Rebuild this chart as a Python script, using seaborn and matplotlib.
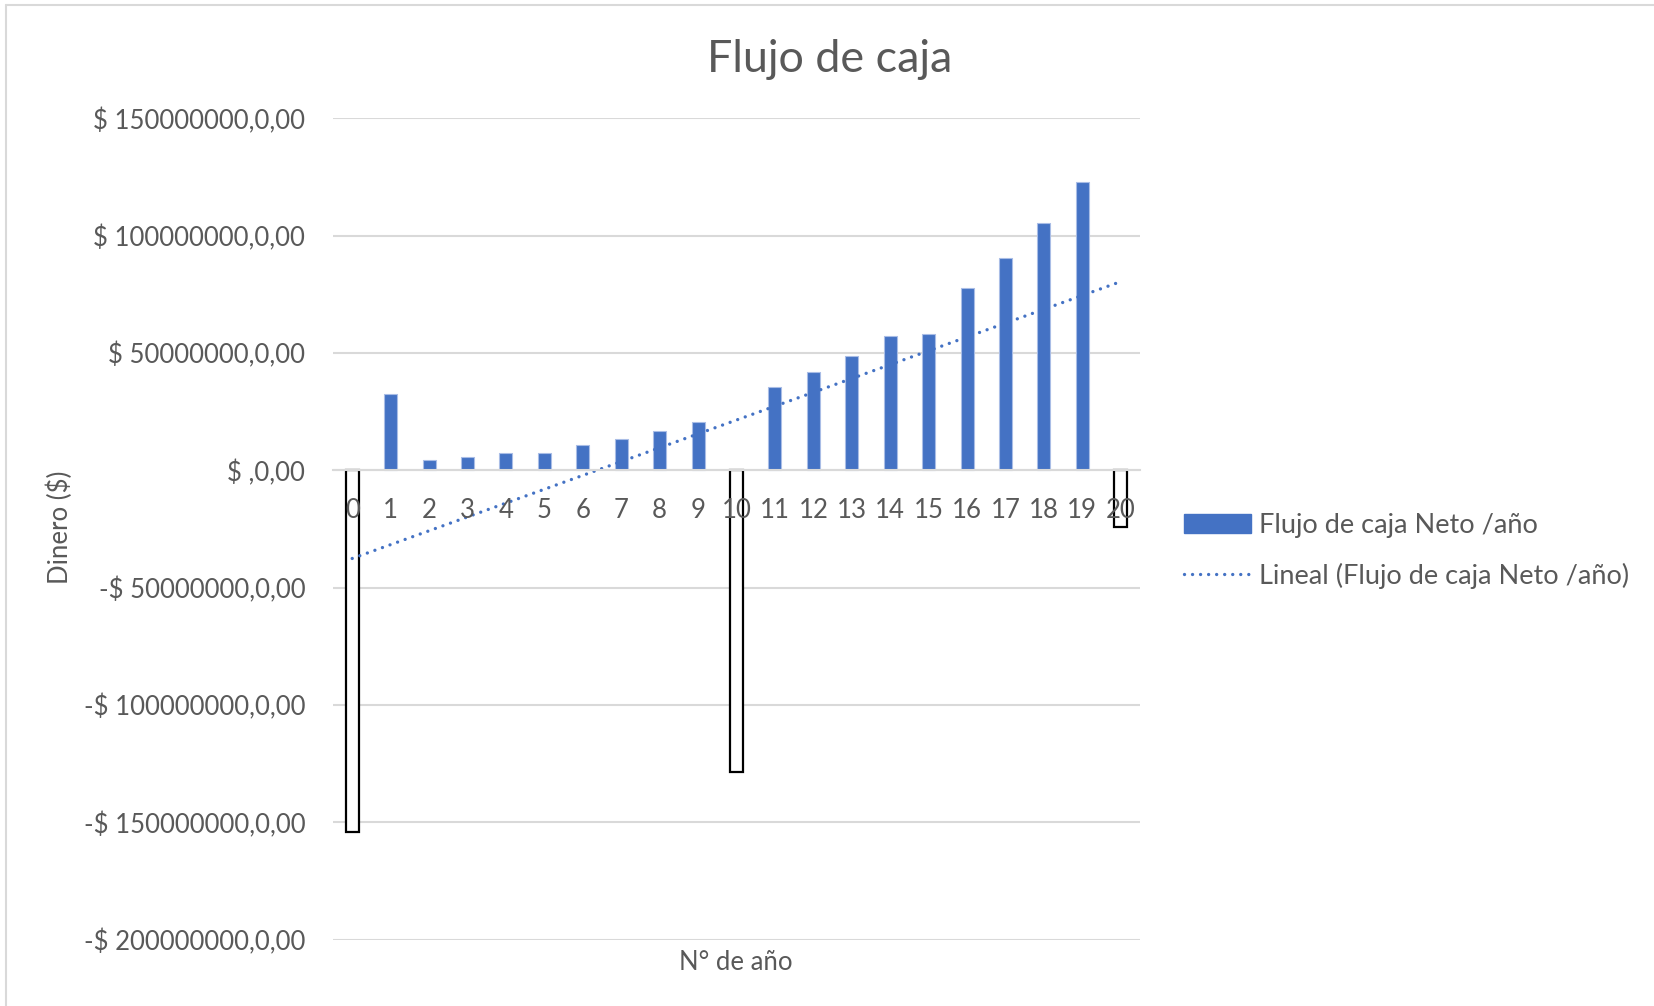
import numpy as np
import pandas as pd
import matplotlib
matplotlib.use("Agg")
import matplotlib.pyplot as plt
import seaborn as sns
from matplotlib.patches import Patch
from matplotlib.lines import Line2D

# ---- data ----
years = [str(i) for i in range(21)]
flujo = [-154.0e6, 32.4e6, 4.4e6, 5.7e6, 7.4e6, 7.4e6, 10.8e6, 13.5e6, 16.9e6, 20.7e6,
         -128.6e6, 35.6e6, 41.8e6, 48.5e6, 57.1e6, 58.0e6, 77.7e6, 90.5e6, 105.4e6, 122.8e6,
         -24.2e6]
ytick_vals = [-200e6, -150e6, -100e6, -50e6, 0, 50e6, 100e6, 150e6]
ytick_labels = ["-$ 200000000,0,00", "-$ 150000000,0,00", "-$ 100000000,0,00",
                "-$ 50000000,0,00", "$ ,0,00", "$ 50000000,0,00",
                "$ 100000000,0,00", "$ 150000000,0,00"]
title = "Flujo de caja"
xlabel = "N° de año"
ylabel = "Dinero ($)"
legend_labels = ["Flujo de caja Neto /año", "Lineal (Flujo de caja Neto /año)"]

BLUE = "#4472C4"
TXT = "#595959"
GRID = "#d9d9d9"

sns.set_theme(style="white")
plt.rcParams["font.family"] = ["Lato", "DejaVu Sans"]

df = pd.DataFrame({"year": years, "flujo": flujo})

W, H = 1654, 1006
fig = plt.figure(figsize=(W / 100, H / 100), dpi=100)
ax = fig.add_axes([333 / W, 1 - 939.6 / H, (1140 - 333) / W, (939.6 - 118.3) / H])

sns.barplot(data=df, x="year", y="flujo", color=BLUE, width=0.34, ax=ax,
            saturation=1, edgecolor="#a9bde6", linewidth=0.8, zorder=2)
for p, v in zip(ax.patches, flujo):
    if v < 0:
        p.set_facecolor("white")
        p.set_edgecolor("black")
        p.set_linewidth(1.6)

sns.regplot(x=np.arange(len(flujo)), y=np.array(flujo), scatter=False, ci=None, ax=ax,
            line_kws=dict(color=BLUE, lw=2.4, ls=(0, (0.01, 2.4)),
                          dash_capstyle="round", zorder=3))

ax.set_xlim(-0.5, 20.5)
ax.set_ylim(-200e6, 150e6)
ax.set_yticks(ytick_vals)
ax.set_yticklabels(ytick_labels)
ax.set_xticks(range(len(years)))
ax.set_xticklabels(years)

ax.yaxis.grid(True, color=GRID, lw=1.5)
ax.set_axisbelow(True)
ax.xaxis.set_zorder(5)
for s in ["left", "right", "top"]:
    ax.spines[s].set_visible(False)
ax.spines["bottom"].set_position(("data", 0))
ax.spines["bottom"].set_color(GRID)
ax.spines["bottom"].set_linewidth(1.5)
ax.spines["bottom"].set_zorder(4)

ax.tick_params(axis="y", length=0, pad=20, labelsize=18.5, labelcolor=TXT)
ax.tick_params(axis="x", length=0, pad=20, labelsize=18.5, labelcolor=TXT)

ax.set_xlabel("")
ax.set_ylabel("")
fig.text(736 / W, 1 - 963 / H, xlabel, ha="center", va="center", fontsize=18.5, color=TXT)
fig.text(60 / W, 1 - 527 / H, ylabel, ha="center", va="center", rotation=90,
         fontsize=18.5, color=TXT)
fig.text(830 / W, 1 - 59 / H, title, ha="center", va="center", fontsize=32.3, color=TXT)

handles = [Patch(facecolor=BLUE, edgecolor=BLUE),
           Line2D([0], [0], color=BLUE, lw=2.4, ls=(0, (0.01, 2.4)), dash_capstyle="round")]
fig.legend(handles, legend_labels, loc="center left",
           bbox_to_anchor=(1184 / W, 1 - 551 / H), frameon=False, fontsize=19.5,
           labelcolor=TXT, handlelength=2.49, handletextpad=0.27, labelspacing=0.89,
           borderaxespad=0, borderpad=0)

# chart border (left and top visible)
fig.add_artist(Line2D([6 / W, 6 / W], [0, 1 - 5 / H], transform=fig.transFigure,
                      color=GRID, lw=1.5))
fig.add_artist(Line2D([6 / W, 1], [1 - 5 / H, 1 - 5 / H], transform=fig.transFigure,
                      color=GRID, lw=1.5))

fig.savefig("out.png", dpi=100)
